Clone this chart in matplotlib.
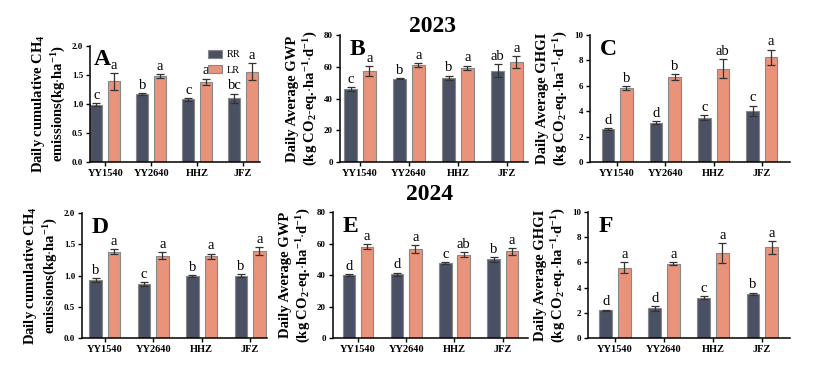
import matplotlib.pyplot as plt
import numpy as np

plt.rcParams['font.family'] = 'Liberation Serif'
plt.rcParams['mathtext.fontset'] = 'custom'
plt.rcParams['mathtext.rm'] = 'Liberation Serif:bold'
plt.rcParams['mathtext.it'] = 'Liberation Serif:italic:bold'
plt.rcParams['mathtext.bf'] = 'Liberation Serif:bold'

CULTIVARS = ['YY1540', 'YY2640', 'HHZ', 'JFZ']

# 2023
A_RR = [0.99, 1.17, 1.08, 1.10]
A_RR_ERR = [0.03, 0.02, 0.02, 0.08]
A_LR = [1.39, 1.48, 1.38, 1.56]
A_LR_ERR = [0.14, 0.03, 0.06, 0.15]
A_RR_SIG = ['c', 'b', 'c', 'bc']
A_LR_SIG = ['a', 'a', 'a', 'a']

B_RR = [46, 52.5, 53, 57.5]
B_RR_ERR = [1.0, 0.4, 1.5, 4.0]
B_LR = [57.5, 61, 59.5, 63]
B_LR_ERR = [3.0, 1.2, 1.3, 3.8]
B_RR_SIG = ['c', 'b', 'b', 'ab']
B_LR_SIG = ['a', 'a', 'a', 'a']

C_RR = [2.6, 3.1, 3.5, 4.05]
C_RR_ERR = [0.1, 0.1, 0.2, 0.4]
C_LR = [5.85, 6.7, 7.35, 8.25]
C_LR_ERR = [0.15, 0.25, 0.75, 0.6]
C_RR_SIG = ['d', 'd', 'c', 'c']
C_LR_SIG = ['b', 'b', 'ab', 'a']

# 2024
D_RR = [0.93, 0.86, 0.99, 1.00]
D_RR_ERR = [0.03, 0.03, 0.02, 0.02]
D_LR = [1.38, 1.32, 1.31, 1.39]
D_LR_ERR = [0.04, 0.06, 0.04, 0.06]
D_RR_SIG = ['b', 'c', 'b', 'b']
D_LR_SIG = ['a', 'a', 'a', 'a']

E_RR = [40, 40.5, 47.5, 50]
E_RR_ERR = [0.6, 1.0, 0.5, 1.5]
E_LR = [58, 56.5, 53, 55]
E_LR_ERR = [1.5, 2.5, 1.5, 2.0]
E_RR_SIG = ['d', 'd', 'c', 'b']
E_LR_SIG = ['a', 'a', 'ab', 'a']

F_RR = [2.2, 2.35, 3.2, 3.5]
F_RR_ERR = [0.05, 0.2, 0.1, 0.1]
F_LR = [5.6, 5.9, 6.75, 7.2]
F_LR_ERR = [0.4, 0.1, 0.8, 0.5]
F_RR_SIG = ['d', 'd', 'c', 'b']
F_LR_SIG = ['a', 'a', 'a', 'a']

RR_COLOR = '#4b5164'
LR_COLOR = '#e8937a'

CH4_LABEL = 'Daily cumulative CH$_4$\nemissions(kg$\\cdot$ha$^{-1}$)'
GWP_LABEL = 'Daily Average GWP\n(kg CO$_2$-eq.$\\cdot$ha$^{-1}$$\\cdot$d$^{-1}$)'
GHGI_LABEL = 'Daily Average GHGI\n(kg CO$_2$-eq.$\\cdot$ha$^{-1}$$\\cdot$d$^{-1}$)'

fig = plt.figure(figsize=(8.26, 3.77), dpi=100)


def panel(rect, xlim, rr, rr_err, lr, lr_err, rr_sig, lr_sig, ymax, ystep,
          fmt, ylabel, letter, letter_x=0.05, legend=False):
    ax = fig.add_axes(rect)
    x = np.arange(len(CULTIVARS))
    w = 0.26
    off = 0.19
    ekw = dict(ecolor='#333333', elinewidth=0.9, capsize=3, capthick=0.9)
    ax.bar(x - off, rr, w, yerr=rr_err, color=RR_COLOR, edgecolor='#888888',
           linewidth=0.8, error_kw=ekw, label='RR')
    ax.bar(x + off, lr, w, yerr=lr_err, color=LR_COLOR, edgecolor='#888888',
           linewidth=0.8, error_kw=ekw, label='LR')
    pad = ymax * 0.01
    for i in range(len(CULTIVARS)):
        ax.text(x[i] - off, rr[i] + rr_err[i] + pad, rr_sig[i], ha='center',
                va='bottom', fontsize=10.5)
        ax.text(x[i] + off, lr[i] + lr_err[i] + pad, lr_sig[i], ha='center',
                va='bottom', fontsize=10.5)
    ax.set_xlim(*xlim)
    ax.set_ylim(0, ymax)
    ticks = np.arange(0, ymax + ystep / 2, ystep)
    ax.set_yticks(ticks)
    ax.set_yticklabels([fmt.format(v) for v in ticks], fontsize=6.5,
                       fontweight='bold')
    ax.set_xticks(x)
    ax.set_xticklabels(CULTIVARS, fontsize=7.5, fontweight='bold')
    ax.spines['top'].set_visible(False)
    ax.spines['right'].set_visible(False)
    ax.spines['left'].set_linewidth(1.1)
    ax.spines['bottom'].set_linewidth(1.1)
    ax.tick_params(length=3, width=1, pad=2)
    ax.set_ylabel(ylabel, fontsize=10.5, fontweight='bold', labelpad=3)
    ax.text(letter_x, 0.97, letter, transform=ax.transAxes, fontsize=17,
            fontweight='bold', va='top', ha='left')
    if legend:
        ax.legend(loc='upper left', bbox_to_anchor=(0.64, 1.05), frameon=False,
                  fontsize=7.5, handlelength=1.3, handleheight=0.8,
                  labelspacing=0.6, handletextpad=0.45)
    return ax


panel([0.109, 0.570, 0.206, 0.308], (-0.33, 3.37), A_RR, A_RR_ERR, A_LR, A_LR_ERR,
      A_RR_SIG, A_LR_SIG, 2.0, 0.5, '{:.1f}', CH4_LABEL, 'A', letter_x=0.02,
      legend=True)
panel([0.4116, 0.570, 0.2276, 0.337], (-0.41, 3.43), B_RR, B_RR_ERR, B_LR, B_LR_ERR,
      B_RR_SIG, B_LR_SIG, 80, 20, '{:.0f}', GWP_LABEL, 'B')
panel([0.7143, 0.570, 0.242, 0.337], (-0.56, 3.58), C_RR, C_RR_ERR, C_LR, C_LR_ERR,
      C_RR_SIG, C_LR_SIG, 10, 2, '{:.0f}', GHGI_LABEL, 'C')
panel([0.0993, 0.1034, 0.224, 0.3316], (-0.47, 3.35), D_RR, D_RR_ERR, D_LR, D_LR_ERR,
      D_RR_SIG, D_LR_SIG, 2.0, 0.5, '{:.1f}', CH4_LABEL, 'D')
panel([0.403, 0.1034, 0.236, 0.334], (-0.52, 3.52), E_RR, E_RR_ERR, E_LR, E_LR_ERR,
      E_RR_SIG, E_LR_SIG, 80, 20, '{:.0f}', GWP_LABEL, 'E')
panel([0.712, 0.1034, 0.2446, 0.334], (-0.55, 3.57), F_RR, F_RR_ERR, F_LR, F_LR_ERR,
      F_RR_SIG, F_LR_SIG, 10, 2, '{:.0f}', GHGI_LABEL, 'F')

fig.text(433 / 826, 1 - 27 / 377, '2023', ha='center', va='center',
         fontsize=17, fontweight='bold')
fig.text(430 / 826, 1 - 195 / 377, '2024', ha='center', va='center',
         fontsize=17, fontweight='bold')

fig.savefig('out.png', dpi=100)
